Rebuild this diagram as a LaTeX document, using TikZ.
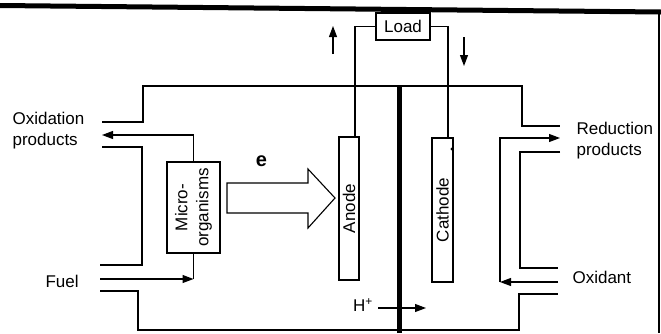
\documentclass[tikz,border=0pt]{standalone}
\usepackage{fontspec}
\setmainfont{Liberation Sans}
\usetikzlibrary{arrows.meta}
\begin{document}
\begin{tikzpicture}[x=1pt,y=-1pt, line width=1.1pt,
  lbl/.style={font=\fontsize{17}{21}\selectfont, inner sep=0pt, align=left},
  vbox/.style={draw, rotate=90, inner sep=0pt, font=\fontsize{17}{21}\selectfont, align=center},
  arr/.style={-{Triangle[length=11pt,width=8pt]}}]
\useasboundingbox (0,0) rectangle (661,333);
% frame
\draw[line width=5pt] (0,5.5) -- (661,12);
\draw[line width=1.6pt] (659,12) -- (659,333);
% boxes
\node[vbox, minimum width=91pt, minimum height=53pt] (micro) at (193.5,207.5) {Micro-\\organisms};
\node[vbox, minimum width=143pt, minimum height=20pt] (anode) at (349,208.5) {Anode};
\node[vbox, minimum width=144pt, minimum height=21pt] (cathode) at (442.5,210) {Cathode};
\node[draw, minimum width=54pt, minimum height=27pt, inner sep=0pt, font=\fontsize{17}{21}\selectfont] (load) at (403,26.5) {Load};
% membrane
\draw[line width=5pt] (399,86) -- (399,333);
% chamber outline
\draw (102,122) -- (143,122) -- (143,86) -- (522,86) -- (522,126) -- (560,126);
\draw (102,147) -- (142,147) -- (142,265) -- (100,265);
\draw (100,291) -- (138,291) -- (138,330) -- (519,330) -- (519,294) -- (558,294);
\draw (560,152) -- (520,152) -- (520,268) -- (558,268);
% flows left
\coordinate (oxout) at (102,135);
\coordinate (fuelin) at (100,279);
\coordinate (fuelend) at (193.5,279);
\draw[arr] (micro.east) |- (oxout);
\draw[arr] (fuelin) -- (fuelend);
\draw (micro.west) -- (fuelend);
% flows right
\coordinate (oxin) at (558,282);
\coordinate (oxturn) at (500,282);
\coordinate (redout) at (560,138);
\draw[arr] (oxin) -- (oxturn);
\draw[arr] (oxturn) |- (redout);
% external circuit
\draw ([xshift=6pt]anode.east) |- (load.west);
\draw (load.east) -| ([xshift=5.5pt]cathode.east);
\coordinate (ua) at (333,54);
\coordinate (ub) at (333,26);
\coordinate (da) at (464,37);
\coordinate (db) at (464,66);
\draw[arr] (ua) -- (ub);
\draw[arr] (da) -- (db);
% electron arrow
\draw (227,183) -- (308,183) -- (308,169) -- (335,198) -- (308,228) -- (308,213) -- (227,213) -- cycle;
\node[font=\fontsize{20}{24}\selectfont\bfseries, inner sep=0pt] (e) at (261.5,161) {e};
% protons
\node[lbl] (hplus) at (363,305) {H\textsuperscript{+}};
\coordinate (ha) at (378,308);
\coordinate (hb) at (426,308);
\draw[arr] (ha) -- (hb);
\fill (452,149) circle (1.6pt);
% labels
\node[lbl, anchor=west] (oxlbl) at (12,130.5) {Oxidation\\products};
\node[lbl, anchor=west] (fuel) at (45,281) {Fuel};
\node[lbl, anchor=west] (redlbl) at (576,140.5) {Reduction\\products};
\node[lbl, anchor=west] (oxidant) at (572,277) {Oxidant};
\end{tikzpicture}
\end{document}
